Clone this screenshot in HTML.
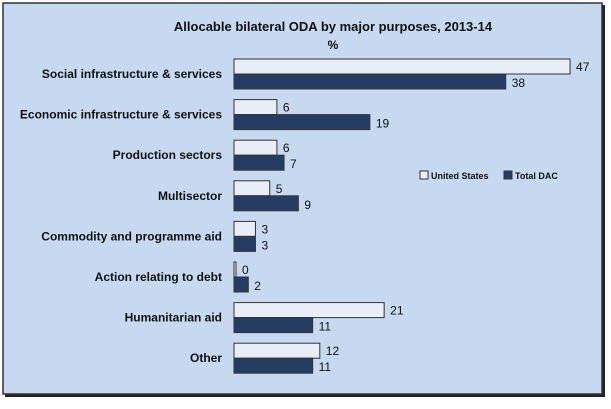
<!DOCTYPE html>
<html><head><meta charset="utf-8"><style>
body{margin:0;background:#fff;width:611px;height:404px;overflow:hidden;font-family:"Liberation Sans",sans-serif}
</style></head><body>
<svg width="611" height="404">
<rect x="5" y="5" width="600" height="392" fill="#222"/>
<rect x="3" y="3" width="599" height="391" fill="#c6d9f0" stroke="#333" stroke-width="1.5"/>
<text x="333" y="31" text-anchor="middle" font-size="13" font-weight="bold" fill="#111">Allocable bilateral ODA by major purposes, 2013-14</text>
<text x="333" y="49" text-anchor="middle" font-size="12" font-weight="bold" fill="#111">%</text>
<g id="bars"></g>
<g>
<rect x="420" y="171" width="8" height="8" fill="#e8eef7" stroke="#333"/>
<text x="431" y="179" font-size="9" font-weight="bold" fill="#111">United States</text>
<rect x="504" y="171" width="8" height="8" fill="#253d63" stroke="#333"/>
<text x="515" y="179" font-size="9" font-weight="bold" fill="#111">Total DAC</text>
</g>
</svg>
<script>
const categories=["Social infrastructure & services","Economic infrastructure & services","Production sectors","Multisector","Commodity and programme aid","Action relating to debt","Humanitarian aid","Other"];
const usValues=[47,6,6,5,3,0,21,12];
const dacValues=[38,19,7,9,3,2,11,11];
const x0=234,scale=7.15,y0=74,step=40.6,bh=15;
const xs=v=>x0+v*scale;
const g=document.getElementById('bars');
const NS="http://www.w3.org/2000/svg";
function mk(t,a){const e=document.createElementNS(NS,t);for(const k in a)e.setAttribute(k,a[k]);g.appendChild(e);return e;}
categories.forEach((c,i)=>{
 const cy=y0+i*step;
 const l=mk('text',{x:222,y:cy+4,'text-anchor':'end','font-size':12,'font-weight':'bold',fill:'#111'});
 l.textContent=c;
 
 
 const w1=Math.max(xs(usValues[i])-x0,2);
 const b1=mk('rect',{x:x0,y:cy-bh,width:w1,height:bh,fill:'#e8eef7',stroke:'#333','stroke-width':1});
 
 
 const b2=mk('rect',{x:x0,y:cy,width:xs(dacValues[i])-x0,height:bh,fill:'#253d63',stroke:'#333','stroke-width':1});
 
 
 const t1=mk('text',{x:x0+w1+6,y:cy-3,'font-size':12,fill:'#111'});
 t1.textContent=usValues[i];
 
 
 const t2=mk('text',{x:xs(dacValues[i])+6,y:cy+13,'font-size':12,fill:'#111'});
 t2.textContent=dacValues[i];
 
 
});
</script>
</body></html>
